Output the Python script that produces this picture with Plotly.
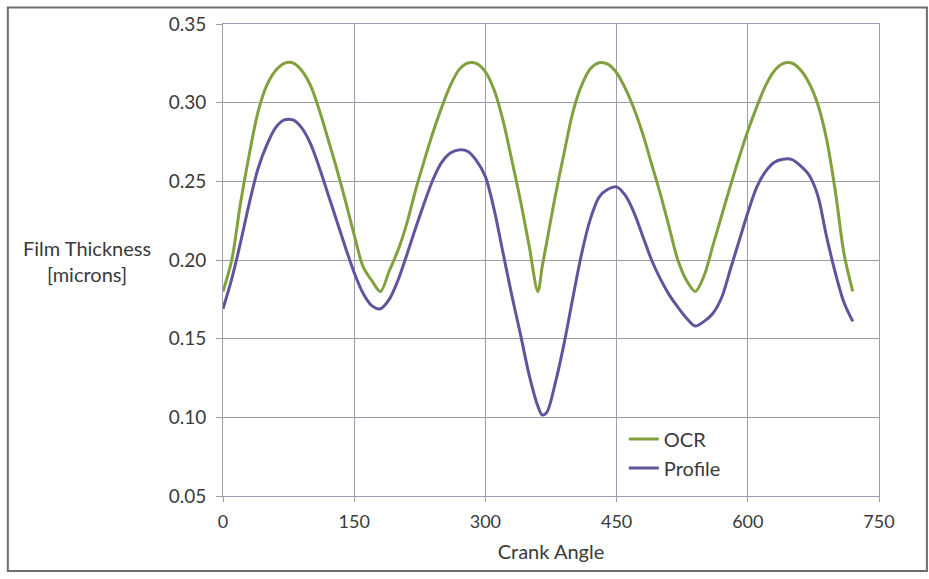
import plotly.graph_objects as go

# Crank angle samples (degrees)
angle = [0, 10, 20, 30, 40, 50, 60, 70, 80, 90, 100, 110, 120, 130, 140, 150, 160, 170, 180,
         190, 200, 210, 220, 230, 240, 250, 260, 270, 280, 290, 300, 310, 320, 330, 340, 350, 360,
         365, 370, 380, 390, 400, 410, 420, 430, 440, 450, 460, 470, 480, 490, 500, 510, 520, 530, 540,
         550, 560, 570, 580, 590, 600, 610, 620, 630, 640, 650, 660, 670, 680, 690, 700, 710, 720]

ocr = [0.180, 0.200, 0.236, 0.267, 0.294, 0.311, 0.3203, 0.3250, 0.3252, 0.3205, 0.311, 0.2955, 0.277,
       0.258, 0.2375, 0.216, 0.196, 0.187, 0.180,
       0.193, 0.206, 0.223, 0.244, 0.263, 0.281, 0.297, 0.311, 0.321, 0.3252, 0.3248, 0.3196, 0.308,
       0.289, 0.264, 0.238, 0.209, 0.180,
       0.196, 0.211, 0.241, 0.268, 0.294, 0.311, 0.3215, 0.3254, 0.3245, 0.319, 0.309, 0.296, 0.280,
       0.261, 0.242, 0.221, 0.200, 0.187, 0.180,
       0.190, 0.209, 0.228, 0.247, 0.265, 0.282, 0.297, 0.3105, 0.320, 0.3248, 0.3252, 0.3210, 0.3125,
       0.299, 0.277, 0.244, 0.204, 0.180]

profile = [0.169, 0.188, 0.211, 0.236, 0.258, 0.273, 0.284, 0.289, 0.289, 0.284, 0.274, 0.259, 0.242,
           0.225, 0.208, 0.192, 0.179, 0.171, 0.169,
           0.175, 0.187, 0.203, 0.220, 0.236, 0.251, 0.262, 0.268, 0.270, 0.269, 0.263, 0.253, 0.232,
           0.205, 0.178, 0.153, 0.127, 0.107,
           0.1015, 0.103, 0.122, 0.147, 0.176, 0.204, 0.226, 0.240, 0.245, 0.2465, 0.241, 0.230, 0.215,
           0.200, 0.188, 0.178, 0.170, 0.163, 0.158,
           0.161, 0.166, 0.176, 0.194, 0.212, 0.230, 0.246, 0.256, 0.262, 0.264, 0.264, 0.260, 0.254,
           0.241, 0.215, 0.192, 0.173, 0.161]

x_ticks = [0, 150, 300, 450, 600, 750]
y_ticks = [0.05, 0.10, 0.15, 0.20, 0.25, 0.30, 0.35]

FONT = "Lato"
TXT = "#3a3a3a"
GRID = "#9c9cb2"

fig = go.Figure()
fig.add_trace(go.Scatter(x=angle, y=ocr, name="OCR", mode="lines",
                         line=dict(color="#82a03e", width=3, shape="spline", smoothing=0.9)))
fig.add_trace(go.Scatter(x=angle, y=profile, name="Profile", mode="lines",
                         line=dict(color="#62549c", width=3, shape="spline", smoothing=0.9)))

fig.update_layout(
    width=929, height=579,
    margin=dict(l=223, r=50, t=18, b=83),
    paper_bgcolor="white", plot_bgcolor="white",
    font=dict(family=FONT, size=18, color=TXT),
    showlegend=True,
    legend=dict(x=0.611, y=0.162, xanchor="left", yanchor="top",
                bgcolor="rgba(0,0,0,0)", font=dict(size=20, color=TXT),
                itemwidth=30, tracegroupgap=0),
    xaxis=dict(range=[0, 750], tickvals=x_ticks, ticktext=[str(v) for v in x_ticks],
               showgrid=True, gridcolor=GRID, gridwidth=1,
               showline=True, linecolor=GRID, linewidth=1, mirror=True,
               ticks="outside", ticklen=5, tickcolor=GRID, ticklabelstandoff=4,
               tickfont=dict(size=18, color=TXT), zeroline=False,
               title=dict(text="Crank Angle", font=dict(size=20, color=TXT), standoff=14)),
    yaxis=dict(range=[0.05, 0.35], tickvals=y_ticks, ticktext=[f"{v:.2f}" for v in y_ticks],
               showgrid=True, gridcolor=GRID, gridwidth=1,
               showline=True, linecolor=GRID, linewidth=1, mirror=True,
               ticks="outside", ticklen=6, tickcolor=GRID, ticklabelstandoff=6,
               tickfont=dict(size=19, color=TXT), zeroline=False),
)

fig.add_annotation(text="Film Thickness<br>[microns]", xref="paper", yref="paper",
                   x=-0.207, y=0.498, xanchor="center", yanchor="middle", showarrow=False,
                   font=dict(size=20, color=TXT), align="center")

fig.add_shape(type="rect", xref="paper", yref="paper",
              x0=-0.328, x1=1.073, y0=-0.159, y1=1.035,
              line=dict(color="#6e6e6e", width=2), fillcolor="rgba(0,0,0,0)", layer="below")

fig.write_html("out.html")
